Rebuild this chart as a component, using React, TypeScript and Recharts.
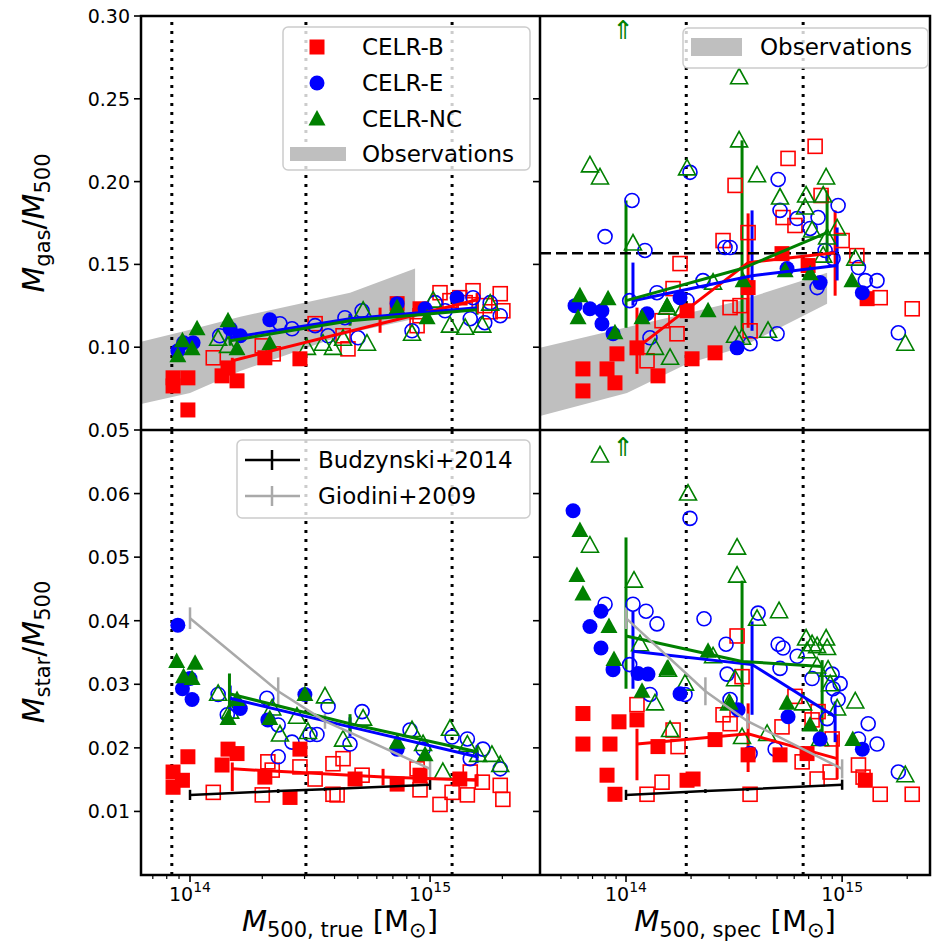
import React from 'react';
import { ComposedChart, Scatter, Area, XAxis, YAxis, ReferenceLine, ErrorBar } from 'recharts';

type Pt = [number, number];
type Med = [number, number, number, number]; // mass, fraction, err below, err above
type Band = [number, number, number]; // mass, low, high

// masses in units of 1e14 Msun

// ---- gas fraction vs true mass ----
const gasTrueBF: Pt[] = [[0.85, 0.0815], [0.98, 0.0815], [0.85, 0.0766], [0.98, 0.0621], [1.44, 0.0875], [1.36, 0.0827], [1.57, 0.0797], [2.05, 0.0936], [2.87, 0.093], [7.29, 0.1263], [9.08, 0.1232]];
const gasTrueBO: Pt[] = [[1.25, 0.0936], [2.0, 0.1008], [2.22, 0.096], [3.32, 0.1142], [4.34, 0.1069], [4.55, 0.099], [8.83, 0.113], [9.08, 0.119], [11.0, 0.1329], [12.1, 0.1281], [13.3, 0.1299], [14.0, 0.1269], [15.1, 0.1341], [16.9, 0.1251], [17.8, 0.1214], [19.6, 0.1323], [20.1, 0.122]];
const gasTrueEF: Pt[] = [[0.89, 0.0978], [0.94, 0.1027], [1.03, 0.1027], [1.47, 0.1111], [1.62, 0.1069], [2.15, 0.1166], [7.29, 0.1263], [9.53, 0.1232], [12.96, 0.1299]];
const gasTrueEO: Pt[] = [[1.33, 0.1069], [2.37, 0.1142], [2.66, 0.1111], [3.32, 0.113], [3.76, 0.1069], [4.42, 0.1178], [5.01, 0.1057], [5.21, 0.122], [8.41, 0.1099], [10.5, 0.1269], [11.55, 0.122], [14.7, 0.1172], [15.1, 0.1299], [16.9, 0.1148], [17.8, 0.1269], [19.6, 0.119]];
const gasTrueNF: Pt[] = [[0.89, 0.0948], [0.93, 0.1039], [1.02, 0.099], [1.07, 0.1111], [1.44, 0.116], [1.57, 0.099], [2.15, 0.1021], [7.29, 0.1239], [9.72, 0.1178]];
const gasTrueNO: Pt[] = [[1.31, 0.1051], [1.44, 0.1008], [3.07, 0.0996], [3.58, 0.1021], [3.94, 0.0996], [4.34, 0.1051], [5.26, 0.122], [5.46, 0.1021], [8.41, 0.1081], [10.3, 0.1281], [12.1, 0.113], [14.0, 0.1117], [16.5, 0.113], [17.8, 0.1263]];
const gasTrueBMed: Med[] = [[1.5, 0.0918, 0.0079, 0.0018], [6.19, 0.1142, 0.0055, 0.0097], [15.7, 0.1287, 0.004, 0.004]];
const gasTrueEMed: Med[] = [[1.47, 0.1057, 0.003, 0.003], [4.64, 0.1172, 0.003, 0.003], [15.7, 0.1239, 0.003, 0.003]];
const gasTrueNMed: Med[] = [[1.47, 0.1039, 0.003, 0.003], [4.64, 0.116, 0.003, 0.003], [15.7, 0.1226, 0.003, 0.003]];
const obsTrue: Band[] = [[0.625, 0.0657, 0.1033], [1.0, 0.0724, 0.1105], [1.62, 0.0857, 0.1184], [4.64, 0.1087, 0.1329], [8.66, 0.1172, 0.1475]];

// ---- gas fraction vs spectroscopic mass ----
const gasSpecBF: Pt[] = [[0.632, 0.0869], [0.632, 0.0736], [0.817, 0.0869], [0.908, 0.096], [0.889, 0.0785], [1.124, 0.0996], [1.406, 0.0827], [1.916, 0.122], [2.021, 0.093], [2.582, 0.0966], [3.672, 0.136], [5.27, 0.1565], [6.96, 0.1493], [13.05, 0.1293]];
const gasSpecBO: Pt[] = [[1.251, 0.0918], [1.468, 0.116], [1.651, 0.1354], [1.722, 0.1081], [1.778, 0.1505], [2.812, 0.1644], [3.03, 0.1239], [3.196, 0.1977], [3.37, 0.1251], [3.672, 0.1692], [3.75, 0.1099], [5.33, 0.1783], [5.62, 0.214], [6.05, 0.1735], [7.5, 0.2213], [7.99, 0.1916], [10.0, 0.1644], [11.7, 0.1553], [15.0, 0.1299], [21.1, 0.1232]];
const gasSpecEF: Pt[] = [[0.581, 0.1251], [0.681, 0.1232], [0.774, 0.122], [0.774, 0.1142], [0.871, 0.1081], [1.251, 0.1202], [1.778, 0.1299], [3.265, 0.0996], [5.56, 0.1475], [7.91, 0.139], [12.4, 0.1329]];
const gasSpecEO: Pt[] = [[0.8, 0.1668], [1.04, 0.1281], [1.066, 0.1886], [1.224, 0.1584], [1.291, 0.1057], [1.391, 0.1329], [1.916, 0.1281], [1.977, 0.2056], [2.271, 0.1402], [2.873, 0.1602], [3.03, 0.1602], [3.75, 0.1021], [5.0, 0.1081], [5.058, 0.2013], [5.16, 0.1826], [6.19, 0.1777], [7.11, 0.1717], [7.66, 0.136], [7.74, 0.1783], [8.34, 0.1584], [9.08, 0.1535], [9.58, 0.1856], [11.9, 0.1481], [12.8, 0.1402], [14.5, 0.1402], [18.2, 0.1087]];
const gasSpecNF: Pt[] = [[0.6, 0.1178], [0.612, 0.1311], [0.826, 0.1293], [0.889, 0.1087], [1.186, 0.1178], [1.549, 0.1251], [2.397, 0.122], [3.481, 0.1402], [5.45, 0.1462], [7.11, 0.1444], [11.1, 0.1402]];
const gasSpecNO: Pt[] = [[0.681, 0.2098], [0.758, 0.2025], [1.077, 0.1626], [1.362, 0.0996], [1.549, 0.1239], [1.599, 0.0936], [1.836, 0.1232], [1.916, 0.208], [2.528, 0.139], [3.196, 0.1069], [3.336, 0.263], [3.336, 0.2249], [3.443, 0.1057], [4.04, 0.2038], [4.54, 0.1099], [5.16, 0.1904], [6.74, 0.1844], [6.81, 0.1916], [7.26, 0.1705], [8.17, 0.1916], [8.17, 0.1553], [8.43, 0.2025], [8.52, 0.1662], [9.48, 0.1717], [11.5, 0.1535], [19.6, 0.1021]];
const gasSpecBMed: Med[] = [[1.124, 0.0996, 0.0157, 0.0243], [3.672, 0.1511, 0.0394, 0.0297], [9.28, 0.1571, 0.026, 0.0255]];
const gasSpecEMed: Med[] = [[1.077, 0.1281, 0.003, 0.023], [3.83, 0.1432, 0.0333, 0.0394], [9.48, 0.1493, 0.009, 0.023]];
const gasSpecNMed: Med[] = [[1.0, 0.1281, 0.0164, 0.0605], [3.443, 0.1475, 0.0376, 0.0774], [8.52, 0.1692, 0.018, 0.0255]];
const obsSpec: Band[] = [[0.4, 0.0585, 0.0996], [1.01, 0.0724, 0.112], [1.92, 0.09, 0.1205], [3.37, 0.0996, 0.1281], [8.52, 0.1263, 0.145]];
const gasArrow: Pt[] = [[0.97, 0.2915]];
const baryonFrac = 0.1567;

// ---- stellar fraction vs true mass ----
const starTrueBF: Pt[] = [[0.85, 0.0162], [0.85, 0.0138], [0.93, 0.0149], [0.98, 0.0186], [1.36, 0.0173], [1.44, 0.0198], [1.57, 0.0191], [2.05, 0.0154], [2.61, 0.0122], [2.87, 0.0198], [4.87, 0.0151], [7.29, 0.0143], [9.08, 0.0157], [13.3, 0.0151]];
const starTrueBO: Pt[] = [[1.25, 0.013], [2.0, 0.0126], [2.11, 0.0178], [2.2, 0.0165], [2.87, 0.017], [3.32, 0.0151], [3.94, 0.0175], [3.94, 0.0127], [4.1, 0.0126], [4.34, 0.0183], [5.21, 0.0157], [8.83, 0.0167], [9.08, 0.0134], [11.0, 0.0111], [12.35, 0.013], [14.3, 0.0126], [14.7, 0.0162], [16.5, 0.0146], [19.6, 0.0141], [20.1, 0.0119]];
const starTrueEF: Pt[] = [[0.89, 0.0393], [0.93, 0.0293], [1.0, 0.0309], [1.02, 0.0276], [1.62, 0.0262], [2.11, 0.0244], [3.01, 0.0284], [7.29, 0.0198]];
const starTrueEO: Pt[] = [[1.31, 0.0284], [1.43, 0.0252], [2.09, 0.0278], [2.33, 0.0236], [2.33, 0.0186], [2.66, 0.0209], [3.16, 0.0221], [3.38, 0.0221], [3.76, 0.0265], [4.64, 0.0206], [5.21, 0.0257], [8.25, 0.0228], [9.35, 0.0198], [12.35, 0.0217], [14.3, 0.0214], [14.7, 0.0183], [16.6, 0.0198], [19.6, 0.0167]];
const starTrueNF: Pt[] = [[0.88, 0.0336], [0.94, 0.0312], [1.02, 0.0309], [1.05, 0.0333], [1.44, 0.0246], [1.57, 0.0276], [2.15, 0.0246], [3.01, 0.0284], [7.29, 0.0209], [9.53, 0.0189]];
const starTrueNO: Pt[] = [[1.31, 0.0285], [1.47, 0.0257], [2.2, 0.0262], [2.37, 0.0221], [2.79, 0.0249], [3.1, 0.0225], [3.65, 0.0281], [4.34, 0.0213], [5.26, 0.0246], [8.41, 0.0228], [9.35, 0.0206], [11.3, 0.0162], [12.1, 0.023], [14.3, 0.0205], [15.85, 0.0189], [18.1, 0.0189], [19.6, 0.0173]];
const starTrueBMed: Med[] = [[1.5, 0.0167, 0.0035, 0.001], [6.37, 0.0154, 0.0013, 0.0013], [15.7, 0.0149, 0.001, 0.001]];
const starTrueEMed: Med[] = [[1.47, 0.0278, 0.002, 0.002], [4.64, 0.0233, 0.0015, 0.0015], [15.7, 0.0186, 0.001, 0.001]];
const starTrueNMed: Med[] = [[1.46, 0.0285, 0.0033, 0.0032], [4.64, 0.0238, 0.0015, 0.0015], [15.7, 0.0194, 0.001, 0.001]];

// ---- stellar fraction vs spectroscopic mass ----
const starSpecBF: Pt[] = [[0.632, 0.0254], [0.632, 0.0206], [0.817, 0.0157], [0.843, 0.0206], [0.889, 0.0127], [0.928, 0.0241], [1.124, 0.0244], [1.406, 0.0202], [1.916, 0.0149], [2.043, 0.0151], [2.582, 0.0213], [3.672, 0.0189], [5.16, 0.0189], [6.88, 0.0191], [12.8, 0.0149]];
const starSpecBO: Pt[] = [[1.124, 0.0268], [1.251, 0.0127], [1.468, 0.0146], [1.651, 0.0228], [1.741, 0.0202], [2.812, 0.0252], [3.03, 0.0238], [3.265, 0.0376], [3.443, 0.0312], [3.75, 0.0127], [5.27, 0.0233], [6.05, 0.0281], [6.53, 0.0178], [7.26, 0.0244], [7.66, 0.0151], [7.74, 0.0257], [8.8, 0.0162], [8.99, 0.0214], [11.9, 0.0173], [12.5, 0.0154], [15.0, 0.0127], [21.1, 0.0127]];
const starSpecEF: Pt[] = [[0.569, 0.0573], [0.681, 0.0391], [0.766, 0.0415], [0.766, 0.0357], [0.871, 0.0323], [1.137, 0.0317], [1.264, 0.0316], [1.778, 0.0285], [3.301, 0.026], [5.62, 0.0249], [7.91, 0.0214], [12.4, 0.0198]];
const starSpecEO: Pt[] = [[0.8, 0.0426], [1.04, 0.0331], [1.077, 0.0426], [1.238, 0.0415], [1.291, 0.0284], [1.391, 0.0395], [1.875, 0.0284], [1.977, 0.0561], [2.296, 0.0403], [2.904, 0.0363], [2.936, 0.0316], [3.03, 0.0276], [3.75, 0.0191], [4.085, 0.0412], [4.898, 0.0198], [5.058, 0.0363], [5.16, 0.0325], [5.33, 0.0357], [6.19, 0.0344], [7.26, 0.0309], [8.52, 0.0246], [8.99, 0.0316], [9.08, 0.0293], [9.58, 0.0276], [9.79, 0.0301], [11.9, 0.0214], [13.2, 0.0238], [14.5, 0.0206], [18.2, 0.0162]];
const starSpecNF: Pt[] = [[0.593, 0.0471], [0.612, 0.0542], [0.632, 0.0442], [0.834, 0.0391], [0.88, 0.0339], [1.186, 0.0289], [1.549, 0.0325], [2.397, 0.0352], [3.03, 0.027], [5.56, 0.027], [7.11, 0.0236], [11.2, 0.0213]];
const starSpecNO: Pt[] = [[0.681, 0.0518], [0.758, 0.066], [1.089, 0.0463], [1.161, 0.0363], [1.362, 0.027], [1.564, 0.0323], [1.599, 0.0228], [1.875, 0.0301], [1.936, 0.06], [2.528, 0.0344], [2.999, 0.027], [3.196, 0.0308], [3.265, 0.0515], [3.265, 0.0471], [3.443, 0.0217], [4.04, 0.0403], [4.497, 0.0222], [5.107, 0.0415], [6.6, 0.027], [6.81, 0.0372], [6.88, 0.0352], [7.26, 0.0363], [7.66, 0.036], [7.66, 0.0328], [7.91, 0.0214], [8.43, 0.0372], [8.52, 0.0357], [8.61, 0.0323], [8.8, 0.03], [9.48, 0.0262], [11.5, 0.0273], [19.6, 0.0157]];
const starSpecBMed: Med[] = [[1.124, 0.0206, 0.0057, 0.0024], [3.672, 0.0222, 0.006, 0.0048], [9.48, 0.0183, 0.0032, 0.0038]];
const starSpecEMed: Med[] = [[1.077, 0.0352, 0.0059, 0.0063], [3.83, 0.0331, 0.0079, 0.0068], [9.28, 0.0249, 0.004, 0.0024]];
const starSpecNMed: Med[] = [[1.0, 0.0376, 0.0083, 0.0155], [3.443, 0.0336, 0.0074, 0.0127], [8.08, 0.0328, 0.0107, 0.001]];
const starArrow: Pt[] = [[0.97, 0.0673]];

// ---- observational relations ----
const budzMass = [1.0, 2.33, 3.65, 10.0];
const budzFrac = [0.0126, 0.0132, 0.0135, 0.0142];
const budzErr = [0.0008, 0.0003, 0.0003, 0.0008];
const giodMass = [1.0, 2.33, 3.65, 10.0];
const giodFrac = [0.0404, 0.0289, 0.0242, 0.0167];
const giodErr = [0.0017, 0.0022, 0.0012, 0.0015];

// mass cuts (dotted lines)
const cutsTrue = [0.84, 3.04, 12.35];
const cutsSpec = [1.9, 6.6];

const gasTicks = [0.05, 0.1, 0.15, 0.2, 0.25, 0.3];
const starTicks = [0.01, 0.02, 0.03, 0.04, 0.05, 0.06];
const massTicksTrue = [0.7, 0.8, 0.9, 1, 2, 3, 4, 5, 6, 7, 8, 9, 10, 20];
const massTicksSpec = [0.5, 0.6, 0.7, 0.8, 0.9, 1, 2, 3, 4, 5, 6, 7, 8, 9, 10, 20];

const RED = '#ff0000';
const BLUE = '#0000ff';
const GREEN = '#008000';
const BAND = '#bfbfbf';
const GIOD = '#a9a9a9';
const FONT = '"DejaVu Sans", Verdana, sans-serif';

const rows = (p: Pt[]) => p.map(([m, f]) => ({ m, f }));
const medRows = (p: Med[]) => p.map(([m, f, lo, hi]) => ({ m, f, err: [lo, hi] }));
const bandRows = (p: Band[]) => p.map(([m, lo, hi]) => ({ m, band: [lo, hi] }));
const litRows = (ms: number[], fs: number[], es: number[]) => ms.map((m, i) => ({ m, f: fs[i], err: [es[i], es[i]] }));

const squareShape = (c: string, filled: boolean) => (p: any) =>
  filled ? (
    <rect x={p.cx - 7.5} y={p.cy - 7.5} width={15} height={15} fill={c} />
  ) : (
    <rect x={p.cx - 7} y={p.cy - 7} width={14} height={14} fill="none" stroke={c} strokeWidth={1.6} />
  );
const circleShape = (c: string, filled: boolean) => (p: any) =>
  filled ? (
    <circle cx={p.cx} cy={p.cy} r={7.5} fill={c} />
  ) : (
    <circle cx={p.cx} cy={p.cy} r={7} fill="none" stroke={c} strokeWidth={1.6} />
  );
const triShape = (c: string, filled: boolean) => (p: any) => {
  const pts = `${p.cx},${p.cy - 9} ${p.cx - 8.5},${p.cy + 6.5} ${p.cx + 8.5},${p.cy + 6.5}`;
  return filled ? <polygon points={pts} fill={c} /> : <polygon points={pts} fill="none" stroke={c} strokeWidth={1.6} />;
};
const noShape = () => <g />;
const arrowShape = (p: any) => (
  <text x={p.cx} y={p.cy + 9} textAnchor="middle" fontSize={26} fill={GREEN} fontFamily={FONT}>⇑</text>
);

type PanelSet = { bF: Pt[]; bO: Pt[]; eF: Pt[]; eO: Pt[]; nF: Pt[]; nO: Pt[]; bM: Med[]; eM: Med[]; nM: Med[] };

const gasTrue: PanelSet = { bF: gasTrueBF, bO: gasTrueBO, eF: gasTrueEF, eO: gasTrueEO, nF: gasTrueNF, nO: gasTrueNO, bM: gasTrueBMed, eM: gasTrueEMed, nM: gasTrueNMed };
const gasSpec: PanelSet = { bF: gasSpecBF, bO: gasSpecBO, eF: gasSpecEF, eO: gasSpecEO, nF: gasSpecNF, nO: gasSpecNO, bM: gasSpecBMed, eM: gasSpecEMed, nM: gasSpecNMed };
const starTrue: PanelSet = { bF: starTrueBF, bO: starTrueBO, eF: starTrueEF, eO: starTrueEO, nF: starTrueNF, nO: starTrueNO, bM: starTrueBMed, eM: starTrueEMed, nM: starTrueNMed };
const starSpec: PanelSet = { bF: starSpecBF, bO: starSpecBO, eF: starSpecEF, eO: starSpecEO, nF: starSpecNF, nO: starSpecNO, bM: starSpecBMed, eM: starSpecEMed, nM: starSpecNMed };

const XTick = (p: any) => {
  const v = p.payload.value;
  const major = v === 1 || v === 10;
  return (
    <g>
      <line x1={p.x} x2={p.x} y1={p.y} y2={p.y + (major ? 7 : 4)} stroke="#000" strokeWidth={major ? 1.6 : 1.2} />
      {major && (
        <text x={p.x} y={p.y + 26} textAnchor="middle" fontSize={19} fontFamily={FONT} fill="#000">
          10<tspan dy={-9} fontSize={14}>{v === 1 ? '14' : '15'}</tspan>
        </text>
      )}
    </g>
  );
};

const makeYTick = (labels: boolean) => (p: any) => (
  <g>
    <line x1={p.x - 7} x2={p.x} y1={p.y} y2={p.y} stroke="#000" strokeWidth={1.6} />
    {labels && (
      <text x={p.x - 11} y={p.y + 7} textAnchor="end" fontSize={19} fontFamily={FONT} fill="#000">
        {p.payload.value.toFixed(2)}
      </text>
    )}
  </g>
);

type PanelProps = {
  left: number; top: number; width: number; height: number; yWidth: number;
  xDomain: [number, number]; xTicks: number[]; showX: boolean;
  yDomain: [number, number]; yTicks: number[]; yLabels: boolean;
  set: PanelSet; band?: Band[]; lit?: boolean; arrow: Pt[]; cuts: number[]; hline?: number;
};

function Panel(props: PanelProps) {
  const s = props.set;
  const markers: [Pt[], (c: string, f: boolean) => (p: any) => JSX.Element, string, boolean][] = [
    [s.bO, squareShape, RED, false],
    [s.eO, circleShape, BLUE, false],
    [s.nO, triShape, GREEN, false],
    [s.bF, squareShape, RED, true],
    [s.eF, circleShape, BLUE, true],
    [s.nF, triShape, GREEN, true],
  ];
  const meds: [Med[], string][] = [[s.bM, RED], [s.eM, BLUE], [s.nM, GREEN]];
  return (
    <div style={{ position: 'absolute', left: props.left, top: props.top }}>
      <ComposedChart
        width={props.width}
        height={props.height}
        margin={{ top: props.top === 0 ? 16 : 0, right: 0, bottom: props.showX ? 0 : 12, left: 0 }}
      >
        <XAxis
          dataKey="m" type="number" scale="log" domain={props.xDomain} allowDataOverflow
          ticks={props.xTicks} interval={0} hide={!props.showX} height={60}
          tickLine={false} axisLine={false} tickSize={0} tickMargin={0} tick={XTick}
        />
        <YAxis
          dataKey="f" type="number" domain={props.yDomain} allowDataOverflow ticks={props.yTicks} interval={0}
          width={props.yWidth} tickLine={false} axisLine={false} tickSize={0} tickMargin={0} tick={makeYTick(props.yLabels)}
        />
        {props.band && (
          <Area data={bandRows(props.band)} dataKey="band" type="linear" fill={BAND} fillOpacity={1} stroke="none" isAnimationActive={false} />
        )}
        {markers.map(([d, sh, c, filled], i) => (
          <Scatter key={'mk' + i} data={rows(d)} shape={sh(c, filled)} isAnimationActive={false} />
        ))}
        {meds.map(([d, c], i) => (
          <Scatter key={'md' + i} data={medRows(d)} shape={noShape} line={{ stroke: c, strokeWidth: 3 }} isAnimationActive={false}>
            <ErrorBar dataKey="err" direction="y" width={0} stroke={c} strokeWidth={3} />
          </Scatter>
        ))}
        {props.lit && (
          <Scatter data={litRows(budzMass, budzFrac, budzErr)} shape={noShape} line={{ stroke: '#000', strokeWidth: 2.5 }} isAnimationActive={false}>
            <ErrorBar dataKey="err" direction="y" width={0} stroke="#000" strokeWidth={2.5} />
          </Scatter>
        )}
        {props.lit && (
          <Scatter data={litRows(giodMass, giodFrac, giodErr)} shape={noShape} line={{ stroke: GIOD, strokeWidth: 2.5 }} isAnimationActive={false}>
            <ErrorBar dataKey="err" direction="y" width={0} stroke={GIOD} strokeWidth={2.5} />
          </Scatter>
        )}
        <Scatter data={rows(props.arrow)} shape={arrowShape} isAnimationActive={false} />
        {props.cuts.map((c) => (
          <ReferenceLine key={'c' + c} x={c} stroke="#000" strokeWidth={3} strokeDasharray="3 6" />
        ))}
        {props.hline !== undefined && (
          <ReferenceLine y={props.hline} stroke="#000" strokeWidth={2.5} strokeDasharray="11 5" />
        )}
      </ComposedChart>
    </div>
  );
}

const Sub = ({ children }: { children: React.ReactNode }) => <tspan fontSize={21} dy={6}>{children}</tspan>;

const App: React.FC = () => (
  <div style={{ position: 'absolute', left: 0, top: 0, width: 932, height: 943, background: '#fff', fontFamily: FONT }}>
    <Panel left={0} top={0} width={540} height={442} yWidth={141} xDomain={[0.625, 28.7]} xTicks={massTicksTrue} showX={false}
      yDomain={[0.05, 0.3]} yTicks={gasTicks} yLabels set={gasTrue} band={obsTrue} arrow={[]} cuts={cutsTrue} />
    <Panel left={530} top={0} width={400} height={442} yWidth={10} xDomain={[0.4, 25.5]} xTicks={massTicksSpec} showX={false}
      yDomain={[0.05, 0.3]} yTicks={gasTicks} yLabels={false} set={gasSpec} band={obsSpec} arrow={gasArrow} cuts={cutsSpec} hline={baryonFrac} />
    <Panel left={0} top={430} width={540} height={505} yWidth={141} xDomain={[0.625, 28.7]} xTicks={massTicksTrue} showX
      yDomain={[0, 0.07]} yTicks={starTicks} yLabels set={starTrue} lit arrow={[]} cuts={cutsTrue} />
    <Panel left={530} top={430} width={400} height={505} yWidth={10} xDomain={[0.4, 25.5]} xTicks={massTicksSpec} showX
      yDomain={[0, 0.07]} yTicks={starTicks} yLabels={false} set={starSpec} lit arrow={starArrow} cuts={cutsSpec} />

    <svg width={932} height={943} style={{ position: 'absolute', left: 0, top: 0, pointerEvents: 'none' }} fontFamily={FONT}>
      {/* frame */}
      <rect x={141} y={16} width={789} height={859} fill="none" stroke="#000" strokeWidth={2.5} />
      <line x1={540} x2={540} y1={16} y2={875} stroke="#000" strokeWidth={2.5} />
      <line x1={141} x2={930} y1={430} y2={430} stroke="#000" strokeWidth={2.5} />

      {/* axis titles */}
      <text transform="translate(44,223) rotate(-90)" textAnchor="middle" fontSize={30}>
        <tspan fontStyle="italic">M</tspan><Sub>gas</Sub><tspan dy={-6}>/</tspan><tspan fontStyle="italic">M</tspan><Sub>500</Sub>
      </text>
      <text transform="translate(44,652) rotate(-90)" textAnchor="middle" fontSize={30}>
        <tspan fontStyle="italic">M</tspan><Sub>star</Sub><tspan dy={-6}>/</tspan><tspan fontStyle="italic">M</tspan><Sub>500</Sub>
      </text>
      <text x={340} y={931} textAnchor="middle" fontSize={29}>
        <tspan fontStyle="italic">M</tspan><Sub>500, true</Sub><tspan dy={-6}> [M</tspan><Sub>⊙</Sub><tspan dy={-6}>]</tspan>
      </text>
      <text x={735} y={931} textAnchor="middle" fontSize={29}>
        <tspan fontStyle="italic">M</tspan><Sub>500, spec</Sub><tspan dy={-6}> [M</tspan><Sub>⊙</Sub><tspan dy={-6}>]</tspan>
      </text>

      {/* legend: simulations */}
      <rect x={283} y={27} width={247} height={143} rx={5} fill="#fff" fillOpacity={0.8} stroke="#cccccc" strokeWidth={1.5} />
      <rect x={309.5} y={39.5} width={15} height={15} fill={RED} />
      <text x={362} y={55} fontSize={23}>CELR-B</text>
      <circle cx={317} cy={83} r={7.5} fill={BLUE} />
      <text x={362} y={91} fontSize={23}>CELR-E</text>
      <polygon points="317,110 308.5,125.5 325.5,125.5" fill={GREEN} />
      <text x={362} y={127} fontSize={23}>CELR-NC</text>
      <rect x={290} y={147} width={56} height={14} fill={BAND} />
      <text x={362} y={162} fontSize={23}>Observations</text>

      {/* legend: observations (right) */}
      <rect x={683} y={28} width={245} height={40} rx={5} fill="#fff" fillOpacity={0.8} stroke="#cccccc" strokeWidth={1.5} />
      <rect x={691} y={38} width={51} height={18} fill={BAND} />
      <text x={760} y={55} fontSize={23}>Observations</text>

      {/* legend: stellar relations */}
      <rect x={237} y={440} width={293} height={78} rx={5} fill="#fff" fillOpacity={0.8} stroke="#cccccc" strokeWidth={1.5} />
      <line x1={245} x2={300} y1={460} y2={460} stroke="#000" strokeWidth={2.5} />
      <line x1={272} x2={272} y1={450} y2={470} stroke="#000" strokeWidth={2.5} />
      <text x={318} y={468} fontSize={23}>Budzynski+2014</text>
      <line x1={245} x2={300} y1={496} y2={496} stroke={GIOD} strokeWidth={2.5} />
      <line x1={272} x2={272} y1={486} y2={506} stroke={GIOD} strokeWidth={2.5} />
      <text x={318} y={504} fontSize={23}>Giodini+2009</text>
    </svg>
  </div>
);

export default App;
